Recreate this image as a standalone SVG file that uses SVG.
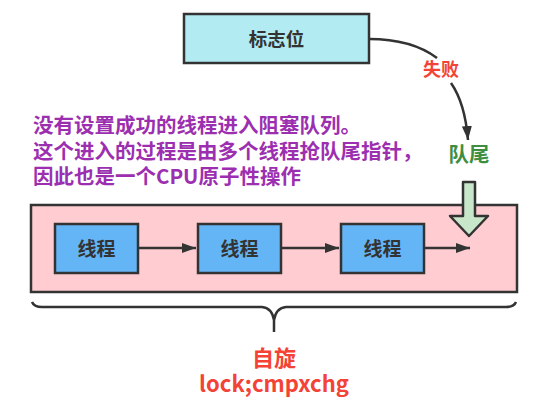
<svg xmlns="http://www.w3.org/2000/svg" width="543" height="407" viewBox="0 0 543 407">
<style>
.box{stroke:#333;stroke-width:2.5}
.lbl{font-family:"Noto Sans CJK SC","Liberation Sans",sans-serif;font-weight:bold;text-anchor:middle}
.line{fill:none;stroke:#333;stroke-width:2.5}
.purple{font-family:"Noto Sans CJK SC","Liberation Sans",sans-serif;font-weight:bold;font-size:20.5px;fill:#9c2fb0}
</style>
<defs>
<marker id="ah" viewBox="0 0 14 10" refX="14" refY="5" markerWidth="14" markerHeight="10" markerUnits="userSpaceOnUse" orient="auto">
<path d="M0,0 L14,5 L0,10 Z" fill="#333"/>
</marker>
</defs>
<rect width="543" height="407" fill="#fff"/>
<g id="queue">
<rect class="box" x="31" y="205" width="486" height="87" fill="#ffccd2"/>
</g>
<g id="flag">
<rect class="box" x="184" y="14" width="185" height="49" fill="#b2ebf2"/>
<text class="lbl" x="276.5" y="45.5" font-size="18.5" fill="#333">标志位</text>
</g>
<g id="t1">
<rect class="box" x="55" y="224" width="83" height="49" fill="#64b5f6"/>
<text class="lbl" x="96.5" y="255.5" font-size="19" fill="#333">线程</text>
</g>
<g id="t2">
<rect class="box" x="198" y="224" width="83" height="49" fill="#64b5f6"/>
<text class="lbl" x="239.5" y="255.5" font-size="19" fill="#333">线程</text>
</g>
<g id="t3">
<rect class="box" x="341" y="224" width="83" height="49" fill="#64b5f6"/>
<text class="lbl" x="382.5" y="255.5" font-size="19" fill="#333">线程</text>
</g>
<g id="tail-arrow">
<path d="M463,182 L475,182 L475,216 L488,216 L469,236 L450,216 L463,216 Z" fill="#c8e6c9" stroke="#333" stroke-width="2.5" stroke-linejoin="round"/>
</g>
<g id="connectors">
<line class="line" x1="138" y1="248" x2="196" y2="248" marker-end="url(#ah)"/>
<line class="line" x1="281" y1="248" x2="339" y2="248" marker-end="url(#ah)"/>
<line class="line" x1="424" y1="248" x2="470" y2="248" marker-end="url(#ah)"/>
<path class="line" d="M369,39 C405,39 425,49 437,58"/>
<path class="line" d="M451,83 C460,96 466,115 468,140" marker-end="url(#ah)"/>
<path class="line" d="M32,302 Q34,307 42,307 L262,307 Q272,308 274,320 L274,332 M516,302 Q514,307 506,307 L286,307 Q276,308 274,320"/>
</g>
<g id="labels">
<text class="lbl" x="441" y="76" font-size="18" fill="#f44336">失败</text>
<text class="lbl" x="469" y="162" font-size="20.5" fill="#3e8e41">队尾</text>
<text class="purple" x="33" y="133">没有设置成功的线程进入阻塞队列。</text>
<text class="purple" x="33" y="159">这个进入的过程是由多个线程抢队尾指针，</text>
<text class="purple" x="33" y="184">因此也是一个CPU原子性操作</text>
<text class="lbl" x="274" y="366" font-size="22" fill="#f44336">自旋</text>
<text class="lbl" x="274" y="392" font-size="22" fill="#f44336">lock;cmpxchg</text>
</g>
</svg>
